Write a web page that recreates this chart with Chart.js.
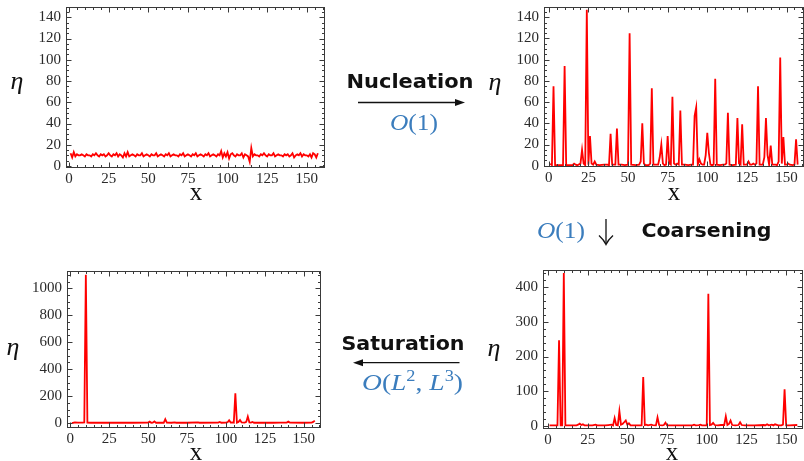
<!DOCTYPE html>
<html>
<head>
<meta charset="utf-8">
<script src="https://cdn.jsdelivr.net/npm/chart.js@4.4.0/dist/chart.umd.min.js"></script>
<style>
  html, body { margin: 0; padding: 0; background: #fff; }
  #stage { position: relative; width: 804px; height: 461px; overflow: hidden; }
  #stage canvas { position: absolute; }
  #overlay { position: absolute; left: 0; top: 0; pointer-events: none; }
</style>
</head>
<body>
<div id="stage">
  <canvas id="seedChart" width="330" height="200" style="left:0;top:0"></canvas>
  <canvas id="nucChart" width="324" height="200" style="left:480px;top:0"></canvas>
  <canvas id="satChart" width="330" height="199" style="left:0;top:262px"></canvas>
  <canvas id="coarseChart" width="324" height="199" style="left:480px;top:262px"></canvas>

  <svg id="overlay" width="804" height="461" xmlns="http://www.w3.org/2000/svg">
    <!-- axis labels -->
    <g font-family="Liberation Serif, DejaVu Serif, serif" fill="#111">
      <text x="17" y="89" font-size="26" font-style="italic" text-anchor="middle">η</text>
      <text x="495" y="90" font-size="26" font-style="italic" text-anchor="middle">η</text>
      <text x="13" y="355" font-size="26" font-style="italic" text-anchor="middle">η</text>
      <text x="494" y="356" font-size="26" font-style="italic" text-anchor="middle">η</text>
      <text x="196" y="200" font-size="25" text-anchor="middle">x</text>
      <text x="674" y="200" font-size="25" text-anchor="middle">x</text>
      <text x="196" y="460" font-size="25" text-anchor="middle">x</text>
      <text x="672" y="460" font-size="25" text-anchor="middle">x</text>
    </g>

    <!-- process labels -->
    <g font-family="DejaVu Sans, sans-serif" font-weight="bold" font-size="19" fill="#111">
      <text x="346.5" y="88" textLength="127" lengthAdjust="spacingAndGlyphs">Nucleation</text>
      <text x="641.5" y="236.5" textLength="130" lengthAdjust="spacingAndGlyphs">Coarsening</text>
      <text x="341.5" y="349.5" textLength="123" lengthAdjust="spacingAndGlyphs">Saturation</text>
    </g>

    <!-- arrows -->
    <g stroke="#111" stroke-width="1.3" fill="#111">
      <line x1="358" y1="102.5" x2="459" y2="102.5"/>
      <polygon points="465,102.5 455,99 455,106" stroke="none"/>
      <line x1="359" y1="362.7" x2="459.5" y2="362.7"/>
      <polygon points="353,362.7 363,359.2 363,366.2" stroke="none"/>
      <line x1="606" y1="219" x2="606" y2="244"/>
      <path d="M599,235.5 Q604,240 606,244.5 Q608,240 613,235.5" fill="none"/>
    </g>

    <!-- complexity labels -->
    <g font-family="Liberation Serif, DejaVu Serif, serif" font-size="24" fill="#3b7dbd">
      <text x="390" y="130" textLength="48" lengthAdjust="spacingAndGlyphs"><tspan font-style="italic">O</tspan>(1)</text>
      <text x="537" y="237.5" textLength="48" lengthAdjust="spacingAndGlyphs"><tspan font-style="italic">O</tspan>(1)</text>
      <text x="362" y="390" textLength="101" lengthAdjust="spacingAndGlyphs"><tspan font-style="italic">O</tspan>(<tspan font-style="italic">L</tspan><tspan dy="-9" font-size="16">2</tspan><tspan dy="9">, </tspan><tspan font-style="italic">L</tspan><tspan dy="-9" font-size="16">3</tspan><tspan dy="9">)</tspan></text>
    </g>
  </svg>
</div>

<script>
// ─── DATA ──────────────────────────────────────────────────────

// shared x-axis tick labels (lattice site)
const xTickValues = [0, 25, 50, 75, 100, 125, 150];

// 1) initial state: noisy field around 10
const seedEta = [
  12, 8, 13, 9, 11, 10, 10, 11, 10, 9, 11, 10, 10, 9, 11, 10, 12, 10, 9, 11,
  10, 11, 9, 10, 12, 10, 9, 11, 10, 12, 9, 11, 10, 8, 12, 9, 13, 9, 10, 11,
  10, 9, 11, 10, 10, 12, 9, 10, 11, 10, 9, 11, 10, 10, 12, 9, 10, 11, 10, 9,
  11, 10, 12, 9, 10, 11, 10, 10, 9, 11, 10, 12, 9, 10, 11, 10, 9, 11, 10, 12,
  9, 10, 11, 10, 9, 11, 10, 12, 9, 10, 11, 10, 9, 11, 10, 14, 8, 12, 9, 13,
  7, 11, 12, 10, 9, 11, 10, 10, 12, 8, 11, 10, 9, 4, 17, 9, 11, 10, 10, 9,
  11, 10, 12, 10, 9, 11, 10, 10, 12, 9, 10, 11, 10, 10, 9, 11, 10, 11, 9, 10,
  12, 8, 10, 11, 10, 12, 9, 11, 10, 10, 9, 11, 8, 12, 11, 8, 12
];
const seedSites = seedEta.map((_, i) => i + 1);
const seedYTicks = [0, 20, 40, 60, 80, 100, 120, 140];

// 2) after nucleation
const nucSites = [
  1, 2, 3, 4, 9, 10, 11, 15, 16, 17, 18, 20, 21, 22, 23, 24, 25, 26, 27, 28,
  29, 30, 32, 35, 37, 38, 39, 40, 42, 43, 44, 46, 48, 50, 51, 52, 55, 57, 58, 59,
  60, 61, 63, 64, 65, 66, 69, 70, 71, 72, 73, 74, 75, 76, 77, 78, 79, 80, 81, 82,
  83, 84, 86, 88, 90, 91, 92, 93, 94, 95, 96, 97, 98, 99, 100, 101, 102, 103, 104, 105,
  106, 108, 110, 111, 112, 113, 114, 116, 118, 119, 120, 121, 122, 123, 125, 126, 127, 128, 129, 130,
  131, 132, 133, 135, 136, 137, 138, 139, 140, 141, 143, 144, 145, 146, 147, 148, 149, 150, 151, 152,
  154, 155, 156, 157
];
const nucEta = [
  2, 0.5, 75, 0.5, 0.5, 94, 0.5, 0.5, 2, 1, 0.5, 2, 15, 2, 0.5, 147, 1, 28, 2, 1,
  4, 1, 0.5, 1, 1, 0.5, 30, 1, 1, 35, 1, 1, 0.5, 1, 125, 1, 0.5, 1, 4, 40,
  2, 0.5, 0.5, 2, 73, 1, 1, 8, 20, 2, 0.5, 1, 28, 2, 1, 65, 2, 1, 2, 1,
  52, 1, 1, 0.5, 1, 1, 47, 55, 1, 6, 2, 1, 1, 10, 31, 12, 1, 0.5, 1, 82,
  1, 0.5, 1, 1, 2, 50, 1, 0.5, 1, 45, 2, 1, 39, 1, 1, 4, 1, 1, 2, 1,
  2, 75, 1, 1, 8, 45, 10, 1, 19, 1, 1, 0.5, 4, 102, 2, 27, 1, 1, 2, 1,
  0.5, 1, 25, 1
];
const nucYTicks = [0, 20, 40, 60, 80, 100, 120, 140];

// 3) after coarsening
const coarseSites = [
  1, 5, 6, 7, 8, 9, 10, 11, 18, 19, 20, 21, 22, 23, 28, 30, 31, 36, 38, 40,
  41, 42, 43, 44, 45, 46, 47, 48, 49, 50, 51, 52, 55, 59, 60, 61, 62, 63, 65, 66,
  68, 69, 70, 72, 73, 74, 75, 85, 91, 92, 93, 95, 96, 97, 100, 101, 102, 103, 104, 105,
  107, 109, 111, 112, 113, 114, 115, 116, 118, 120, 121, 122, 124, 130, 136, 137, 138, 139, 141, 142,
  143, 145, 147, 148, 149, 150, 152, 157
];
const coarseEta = [
  1, 1, 1, 247, 1, 1, 441, 1, 1, 3, 6, 2, 4, 1, 1, 3, 1, 1, 2, 3,
  1, 22, 2, 1, 42, 3, 5, 10, 15, 3, 7, 1, 1, 1, 141, 2, 3, 1, 3, 2,
  1, 24, 2, 1, 2, 9, 1, 1, 1, 3, 1, 2, 3, 1, 1, 381, 2, 3, 8, 2,
  1, 2, 2, 27, 2, 5, 15, 2, 1, 2, 10, 2, 1, 1, 2, 1, 4, 1, 3, 1,
  4, 1, 1, 3, 105, 1, 1, 2
];
const coarseYTicks = [0, 100, 200, 300, 400];

// 4) saturated state
const satSites = [
  1, 2, 3, 5, 8, 9, 10, 11, 13, 20, 27, 30, 40, 50, 51, 52, 53, 54, 55, 60,
  61, 62, 65, 67, 68, 75, 82, 83, 95, 96, 97, 100, 101, 102, 103, 104, 105, 106, 107, 108,
  109, 110, 112, 113, 114, 115, 116, 117, 118, 125, 130, 135, 139, 140, 141, 150, 155, 156, 157
];
const satEta = [
  1, 2, 4, 3, 3, 4, 1100, 3, 2, 2, 3, 2, 2, 3, 10, 2, 3, 12, 2, 2,
  28, 3, 2, 5, 2, 2, 4, 2, 3, 8, 2, 3, 6, 20, 3, 4, 2, 220, 3, 8,
  22, 4, 3, 8, 48, 5, 3, 8, 2, 3, 2, 3, 3, 10, 3, 2, 3, 8, 18
];
const satYTicks = [0, 200, 400, 600, 800, 1000];

// ─── FRAME PLUGIN (Mathematica-style inward ticks on all sides) ─

function steps(min, max, step) {
  const out = [];
  for (let v = Math.ceil(min / step) * step; v <= max; v += step) out.push(v);
  return out;
}

const framePlugin = {
  id: 'mmaFrame',
  afterDatasetsDraw(chart, args, o) {
    const { ctx, chartArea: a, scales: { x, y } } = chart;
    const L = Math.round(a.left) + 0.5, R = Math.round(a.right) - 0.5;
    const T = Math.round(a.top) + 0.5, B = Math.round(a.bottom) - 0.5;
    ctx.save();
    ctx.strokeStyle = '#3a3a3a';
    ctx.lineWidth = 1;
    ctx.beginPath();
    steps(x.min, x.max, o.xMinor).forEach(v => {
      const px = Math.round(x.getPixelForValue(v)) + 0.5;
      const len = o.xMajor.includes(v) ? 5 : 2.5;
      ctx.moveTo(px, B); ctx.lineTo(px, B - len);
      ctx.moveTo(px, T); ctx.lineTo(px, T + len);
    });
    steps(y.min, y.max, o.yMinor).forEach(v => {
      const py = Math.round(y.getPixelForValue(v)) + 0.5;
      const len = o.yMajor.includes(v) ? 5 : 2.5;
      ctx.moveTo(L, py); ctx.lineTo(L + len, py);
      ctx.moveTo(R, py); ctx.lineTo(R - len, py);
    });
    ctx.stroke();
    ctx.strokeRect(L, T, R - L, B - T);
    ctx.restore();
  }
};

// ─── BUILD CHARTS ──────────────────────────────────────────────

const tickFont = { family: 'Liberation Serif', size: 15 };

function buildChart(id, sites, eta, cfg) {
  const points = sites.map((s, i) => ({ x: s, y: eta[i] }));
  return new Chart(document.getElementById(id), {
    type: 'line',
    data: {
      datasets: [{
        data: points,
        borderColor: '#ff0000',
        borderWidth: 1.8,
        pointRadius: 0,
        tension: 0,
        fill: false
      }]
    },
    options: {
      responsive: false,
      animation: false,
      events: [],
      layout: { padding: { top: cfg.padTop, right: cfg.padRight, left: 0, bottom: 0 } },
      plugins: {
        legend: { display: false },
        tooltip: { enabled: false },
        mmaFrame: { xMajor: xTickValues, xMinor: 5, yMajor: cfg.yTicks, yMinor: cfg.yMinor }
      },
      scales: {
        x: {
          type: 'linear',
          min: cfg.xMin,
          max: cfg.xMax,
          grid: { display: false, drawTicks: false },
          border: { display: false },
          afterBuildTicks: s => { s.ticks = xTickValues.map(v => ({ value: v })); },
          afterFit: s => { s.height = cfg.xAxisH; s.paddingLeft = 0; s.paddingRight = 0; },
          ticks: { padding: 2, color: '#2a2a2a', font: tickFont, maxRotation: 0, autoSkip: false,
                   callback: v => String(v) }
        },
        y: {
          type: 'linear',
          min: cfg.yMin,
          max: cfg.yMax,
          grid: { display: false, drawTicks: false },
          border: { display: false },
          afterBuildTicks: s => { s.ticks = cfg.yTicks.map(v => ({ value: v })); },
          afterFit: s => { s.width = cfg.yAxisW; s.paddingTop = 0; s.paddingBottom = 0; },
          ticks: { padding: 5, color: '#2a2a2a', font: tickFont, autoSkip: false,
                   callback: v => String(v) }
        }
      }
    },
    plugins: [framePlugin]
  });
}

buildChart('seedChart', seedSites, seedEta, {
  xMin: -1.9, xMax: 161.5, yMin: -1.9, yMax: 149.7, yTicks: seedYTicks, yMinor: 5,
  yAxisW: 66, xAxisH: 32, padTop: 7, padRight: 5
});

buildChart('nucChart', nucSites, nucEta, {
  xMin: -3, xMax: 161, yMin: -1.2, yMax: 149.7, yTicks: nucYTicks, yMinor: 5,
  yAxisW: 64, xAxisH: 33, padTop: 7, padRight: 0
});

buildChart('satChart', satSites, satEta, {
  xMin: -2.1, xMax: 161, yMin: -37, yMax: 1128, yTicks: satYTicks, yMinor: 50,
  yAxisW: 67, xAxisH: 33, padTop: 9, padRight: 9
});

buildChart('coarseChart', coarseSites, coarseEta, {
  xMin: -3.1, xMax: 160.6, yMin: -9.5, yMax: 450, yTicks: coarseYTicks, yMinor: 20,
  yAxisW: 63, xAxisH: 32, padTop: 8, padRight: 1
});
</script>
</body>
</html>
